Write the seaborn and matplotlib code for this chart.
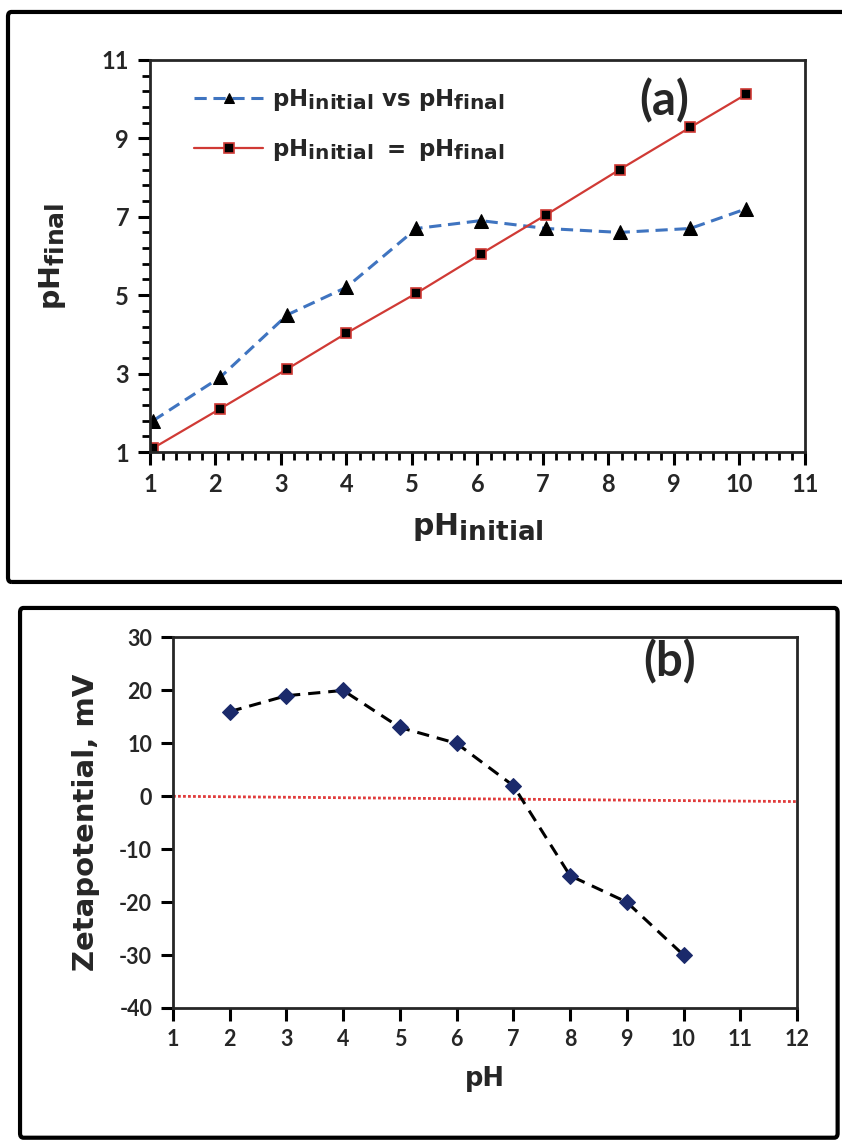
import matplotlib
matplotlib.use("Agg")
import matplotlib.pyplot as plt
import matplotlib._mathtext as _mt
from matplotlib.patches import FancyBboxPatch
import seaborn as sns
import pandas as pd
import numpy as np

# ---------------- data ----------------
ph_initial = [1.05, 2.07, 3.1, 4.0, 5.07, 6.05, 7.05, 8.17, 9.25, 10.1]
ph_final = [1.8, 2.9, 4.5, 5.2, 6.7, 6.9, 6.7, 6.6, 6.7, 7.2]
ph_equal = [1.1, 2.1, 3.12, 4.03, 5.05, 6.05, 7.05, 8.2, 9.28, 10.12]

zeta_ph = [2, 3, 4, 5, 6, 7, 8, 9, 10]
zeta_mv = [16, 19, 20, 13, 10, 2, -15, -20, -30]
zero_x = [1, 12]
zero_y = [0, -1]

top_xticks = list(range(1, 12))
top_yticks = [1, 3, 5, 7, 9, 11]
top_xminor = np.arange(1, 11.01, 0.2)
top_yminor = np.arange(1, 11.01, 0.4)
bot_xticks = list(range(1, 13))
bot_yticks = [-40, -30, -20, -10, 0, 10, 20, 30]

label_a_series1 = r'$\mathrm{pH_{initial}\ vs\ pH_{final}}$'
label_a_series2 = r'$\mathrm{pH_{initial}\ =\ pH_{final}}$'

# ---------------- style ----------------
sns.set_style("ticks")
plt.rcParams['font.family'] = ['Lato', 'DejaVu Sans']
plt.rcParams['font.weight'] = 'bold'
plt.rcParams['axes.unicode_minus'] = False
plt.rcParams['mathtext.fontset'] = 'custom'
plt.rcParams['mathtext.rm'] = 'DejaVu Sans:bold'
plt.rcParams['mathtext.bf'] = 'DejaVu Sans:bold'
plt.rcParams['mathtext.it'] = 'DejaVu Sans:bold'
plt.rcParams['mathtext.sf'] = 'DejaVu Sans:bold'
_mt.SHRINK_FACTOR = 0.88  # larger subscripts, as in the original

fig = plt.figure(figsize=(8.42, 11.4), dpi=100)

# outer frames
fig.patches.append(FancyBboxPatch((0.0095, 0.4895), 1.05, 0.50,
                                  boxstyle="round,pad=0,rounding_size=0.004",
                                  transform=fig.transFigure, fill=False,
                                  edgecolor='black', linewidth=3.0))
fig.patches.append(FancyBboxPatch((0.0238, 0.002), 0.971, 0.4647,
                                  boxstyle="round,pad=0,rounding_size=0.004",
                                  transform=fig.transFigure, fill=False,
                                  edgecolor='black', linewidth=3.0))

# ---------------- panel (a) ----------------
ax1 = fig.add_axes([0.178, 0.6035, 0.778, 0.344])
df_a = pd.DataFrame({'x': ph_initial, 'final': ph_final, 'equal': ph_equal})
sns.lineplot(data=df_a, x='x', y='final', ax=ax1, color='#3F74C0',
             linestyle=(0, (4, 2.2)), linewidth=2.2, marker='^', markersize=10,
             markerfacecolor='black', markeredgecolor='black',
             label=label_a_series1)
sns.lineplot(data=df_a, x='x', y='equal', ax=ax1, color='#D03A35',
             linewidth=1.6, marker='s', markersize=7.5,
             markerfacecolor='black', markeredgecolor='#D03A35',
             markeredgewidth=1.2, label=label_a_series2)
ax1.set_xlim(1, 11)
ax1.set_ylim(1, 11)
ax1.set_xticks(top_xticks)
ax1.set_yticks(top_yticks)
ax1.set_xticks(top_xminor, minor=True)
ax1.set_yticks(top_yminor, minor=True)
ax1.tick_params(axis='both', which='major', labelsize=17, length=9, width=2.2,
                pad=6, direction='out', color='black')
ax1.tick_params(axis='both', which='minor', length=5.5, width=2,
                direction='out', color='black', bottom=True, left=True)
for s in ax1.spines.values():
    s.set_linewidth(2)
    s.set_visible(True)
ax1.set_xlabel(r'$\mathrm{pH_{initial}}$', fontsize=21.5, labelpad=11)
ax1.set_ylabel(r'$\mathrm{pH_{final}}$', fontsize=20.5, labelpad=24)
leg = ax1.legend(loc='upper left', bbox_to_anchor=(0.068, 0.93), frameon=False,
                 fontsize=16.5, handlelength=3.0, handletextpad=0.4,
                 labelspacing=1.05, borderaxespad=0, borderpad=0)
for h in leg.legend_handles:
    h.set_markersize(7)
ax1.text(0.785, 0.895, '(a)', transform=ax1.transAxes, fontsize=34,
         fontweight='bold', ha='center', va='center')

# ---------------- panel (b) ----------------
ax2 = fig.add_axes([0.2055, 0.1158, 0.741, 0.325])
df_b = pd.DataFrame({'pH': zeta_ph, 'zeta': zeta_mv})
df_z = pd.DataFrame({'pH': zero_x, 'zeta': zero_y})
sns.lineplot(data=df_z, x='pH', y='zeta', ax=ax2, color='#E03A3A',
             linestyle=(0, (1, 0.8)), linewidth=2.0)
sns.lineplot(data=df_b, x='pH', y='zeta', ax=ax2, color='black',
             linestyle=(0, (4, 2.6)), linewidth=2.2, marker='D', markersize=8,
             markerfacecolor='#1B2A6B', markeredgecolor='#1B2A6B')
ax2.set_xlim(1, 12)
ax2.set_ylim(-40, 30)
ax2.set_xticks(bot_xticks)
ax2.set_yticks(bot_yticks)
ax2.tick_params(axis='both', which='major', labelsize=15.5, length=9, width=2.2,
                pad=6, color='black', direction='out')
for s in ax2.spines.values():
    s.set_linewidth(2)
    s.set_visible(True)
ax2.set_xlabel('pH', fontsize=18.5, fontweight='bold', labelpad=12,
               family='DejaVu Sans')
ax2.set_ylabel('Zetapotential, mV', fontsize=21, fontweight='bold', labelpad=14,
               family='DejaVu Sans')
ax2.text(0.796, 0.935, '(b)', transform=ax2.transAxes, fontsize=34,
         fontweight='bold', ha='center', va='center')

fig.savefig('out.png', dpi=100)
